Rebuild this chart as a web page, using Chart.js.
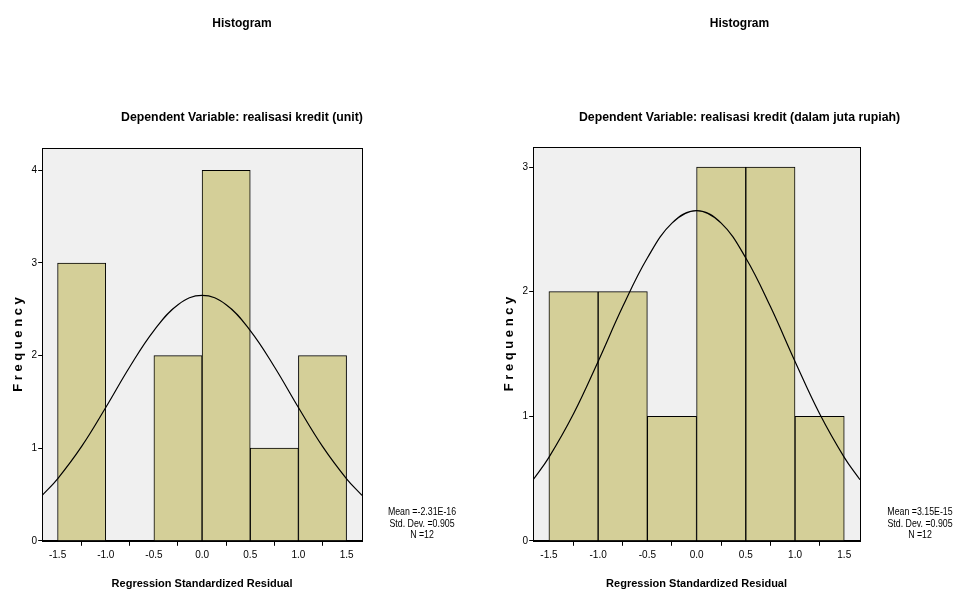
<!DOCTYPE html>
<html>
<head>
<meta charset="utf-8">
<script src="https://cdn.jsdelivr.net/npm/chart.js@4"></script>
<style>
  html, body { margin: 0; padding: 0; background: #fff; overflow: hidden; }
  #wrap { position: relative; width: 960px; height: 596px; overflow: hidden; }
  canvas { position: absolute; top: 0; }
  #left { left: 0; }
  #right { left: 496px; }
</style>
</head>
<body>
<div id="wrap">
  <canvas id="left" width="477" height="596"></canvas>
  <canvas id="right" width="485" height="596"></canvas>
</div>
<script>
// Histogram bins (centre of each 0.5 wide bin)
const binCenters = [-1.25, -0.75, -0.25, 0.25, 0.75, 1.25];
const unitFreq = [3, 0, 2, 4, 1, 2];
const rupiahFreq = [2, 2, 1, 3, 3, 1];

// normal curve (same for both charts)
const curveX = [-1.66, -1.5, -1.25, -1.0, -0.75, -0.5, -0.25, 0, 0.25, 0.5, 0.75, 1.0, 1.25, 1.5, 1.66];
const curveY = [0.49, 0.67, 1.02, 1.44, 1.88, 2.27, 2.55, 2.65, 2.55, 2.27, 1.88, 1.44, 1.02, 0.67, 0.49];

const xTickLabels = ['-1.5', '-1.0', '-0.5', '0.0', '0.5', '1.0', '1.5'];
const xTickValues = [-1.5, -1.0, -0.5, 0, 0.5, 1.0, 1.5];

const unitStats = ['Mean =-2.31E-16', 'Std. Dev. =0.905', 'N =12'];
const rupiahStats = ['Mean =3.15E-15', 'Std. Dev. =0.905', 'N =12'];

const FONT = "'Liberation Sans', Arial, sans-serif";

// grey plot background, box and the stats text
const framePlugin = {
  id: 'frame',
  beforeDraw(chart) {
    const a = chart.chartArea, ctx = chart.ctx;
    ctx.save();
    ctx.fillStyle = '#f0f0f0';
    ctx.fillRect(a.left, a.top, a.right - a.left, a.bottom - a.top);
    ctx.restore();
  },
  afterDraw(chart, args, opts) {
    const a = chart.chartArea, ctx = chart.ctx;
    ctx.save();
    ctx.strokeStyle = '#000';
    ctx.lineWidth = 1;
    ctx.strokeRect(Math.round(a.left) + 0.5, Math.round(a.top) + 0.5,
      Math.round(a.right - a.left), Math.round(a.bottom - a.top));
    ctx.fillStyle = '#000';
    ctx.font = '11px ' + FONT;
    ctx.textAlign = 'center';
    ctx.textBaseline = 'middle';
    // narrow look, like the original
    ctx.translate(a.right + 60, 0);
    ctx.scale(0.8, 1);
    for (var i = 0; i < opts.lines.length; i++) {
      ctx.fillText(opts.lines[i], 0, 512 + i * 11.5);
    }
    ctx.restore();
  }
};

function makeChart(id, freq, subtitle, yMax, stats, padLeft, rightSpace, subPad) {
  const bars = binCenters.map(function (x, i) { return { x: x, y: freq[i] }; });
  const curve = curveX.map(function (x, i) { return { x: x, y: curveY[i] }; });

  return new Chart(document.getElementById(id), {
    type: 'bar',
    data: {
      datasets: [{
        type: 'line',
        data: curve,
        borderColor: '#000',
        borderWidth: 1.2,
        pointRadius: 0,
        tension: 0.4,
        fill: false,
        order: 1
      }, {
        type: 'bar',
        data: bars,
        backgroundColor: '#d4cf98',
        borderColor: '#000',
        borderWidth: 1,
        barPercentage: 1,
        categoryPercentage: 1,
        order: 2
      }]
    },
    options: {
      responsive: false,
      animation: false,
      devicePixelRatio: 1,
      layout: { padding: { left: padLeft, right: 0, top: 0, bottom: 0 } },
      plugins: {
        legend: { display: false },
        tooltip: { enabled: false },
        title: {
          display: true,
          text: 'Histogram',
          color: '#000',
          font: { family: FONT, size: 12, weight: 'bold' },
          padding: { top: 16, bottom: 0 }
        },
        subtitle: {
          display: true,
          text: subtitle,
          color: '#000',
          font: { family: FONT, size: 12.3, weight: 'bold' },
          padding: { top: 80, bottom: subPad }
        },
        frame: { lines: stats }
      },
      scales: {
        x: {
          type: 'linear',
          min: -1.66,
          max: 1.66,
          offset: false,
          grid: { display: true, drawOnChartArea: false, drawTicks: true, tickLength: 5, color: '#000' },
          border: { display: true, color: '#000' },
          ticks: {
            stepSize: 0.5,
            includeBounds: false,
            color: '#000',
            padding: 3,
            maxRotation: 0,
            font: { family: FONT, size: 10 },
            callback: function (v) {
              const k = xTickValues.findIndex(function (t) { return Math.abs(t - v) < 1e-6; });
              return k >= 0 ? xTickLabels[k] : '';
            }
          },
          title: {
            display: true,
            text: 'Regression Standardized Residual',
            color: '#000',
            font: { family: FONT, size: 11, weight: 'bold' },
            padding: { top: 14, bottom: 5 }
          }
        },
        y: {
          min: 0,
          max: yMax,
          grid: { display: true, drawOnChartArea: false, drawTicks: true, tickLength: 4, color: '#000' },
          border: { display: true, color: '#000' },
          ticks: {
            stepSize: 1,
            includeBounds: false,
            color: '#000',
            padding: 1,
            font: { family: FONT, size: 10 }
          },
          title: {
            display: true,
            text: 'F r e q u e n c y',
            color: '#000',
            font: { family: FONT, size: 13, weight: 'bold' },
            padding: { top: 4, bottom: 4 }
          }
        },
        // empty axis that only keeps room for the stats text
        side: {
          position: 'right',
          display: true,
          grid: { display: false },
          border: { display: false },
          ticks: { display: false },
          afterFit: function (s) { s.width = rightSpace; }
        }
      }
    },
    plugins: [framePlugin]
  });
}

makeChart('left', unitFreq, 'Dependent Variable: realisasi kredit (unit)', 4.24, unitStats, 7, 115, 23);
makeChart('right', rupiahFreq, 'Dependent Variable: realisasi kredit (dalam juta rupiah)', 3.16, rupiahStats, 2, 121, 22);
</script>
</body>
</html>
